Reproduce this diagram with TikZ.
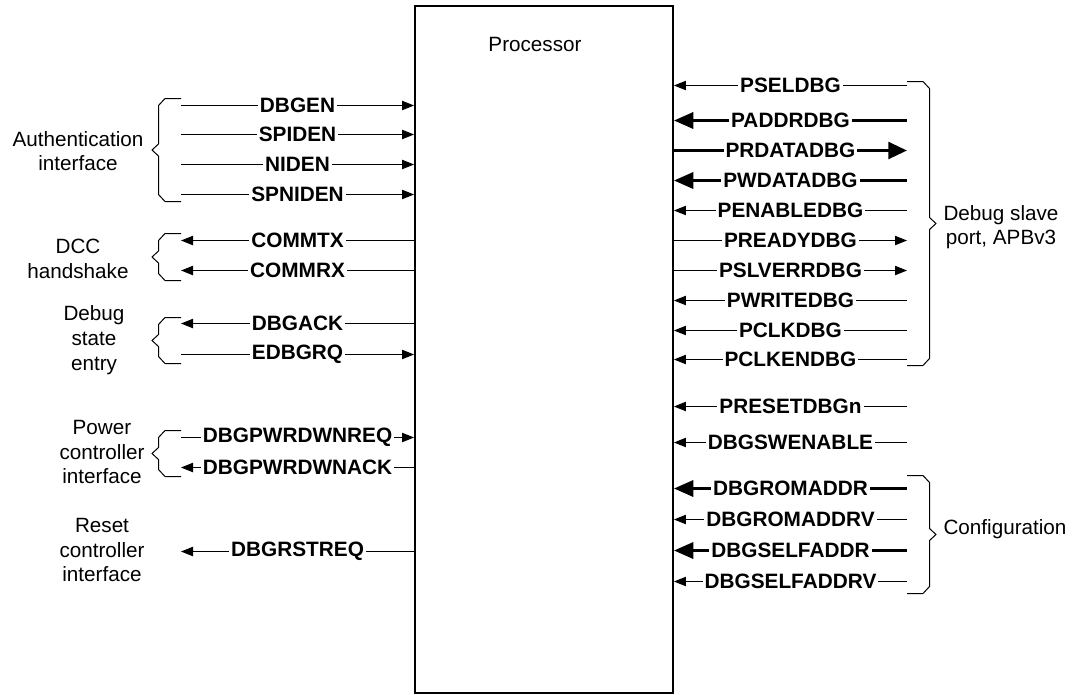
\documentclass[tikz,border=0pt]{standalone}
\usepackage{fontspec}
\setmainfont{Liberation Sans}
\usetikzlibrary{arrows.meta,positioning}

\begin{document}
\begin{tikzpicture}[x=0.75pt,y=-0.75pt,
    procbox/.style={draw,line width=1.4pt,minimum width=193.5pt,minimum height=515.25pt,inner sep=0pt},
    grp/.style={align=center,inner sep=0pt,font=\fontsize{15.5}{18.5}\selectfont},
    sig/.style={fill=white,inner sep=1.5pt,font=\bfseries\fontsize{15.6}{18}\selectfont},
    wirein/.style={line width=0.75pt,-{Triangle[length=9pt,width=7pt]}},
    wireout/.style={line width=0.75pt,{Triangle[length=9pt,width=7pt]}-},
    busin/.style={line width=2.5pt,-{Triangle[length=14.5pt,width=12pt]}},
    busout/.style={line width=2.5pt,{Triangle[length=14pt,width=12.5pt]}-},
    brk/.style={line width=0.75pt}]
  \useasboundingbox (0,0) rectangle (1085,694);
  \node[procbox] (proc) at (544,349.5) {};
  \node[grp] (title) at (535,44) {Processor};
  % left side signals
  \foreach \sname/\yy/\kind in {DBGEN/105.5/wirein, SPIDEN/134.5/wirein, NIDEN/164.5/wirein,
      SPNIDEN/194.5/wirein, COMMTX/240.5/wireout, COMMRX/270.5/wireout, DBGACK/323.5/wireout,
      EDBGRQ/354.5/wirein, DBGPWRDWNREQ/437.5/wirein, DBGPWRDWNACK/467.5/wireout,
      DBGRSTREQ/551.5/wireout}{
    \coordinate (l-\sname) at (181,\yy);
    \coordinate (p-\sname) at (proc.west |- l-\sname);
    \draw[\kind] (l-\sname) -- node[sig] {\sname} (p-\sname);
  }
  % right side signals
  \foreach \sname/\yy/\kind in {PSELDBG/85.5/wirein, PADDRDBG/120.5/busin, PRDATADBG/150.5/busout,
      PWDATADBG/180.5/busin, PENABLEDBG/210.5/wirein, PREADYDBG/240.5/wireout,
      PSLVERRDBG/270.5/wireout, PWRITEDBG/300.5/wirein, PCLKDBG/330.5/wirein,
      PCLKENDBG/359.5/wirein, PRESETDBGn/406.5/wirein, DBGSWENABLE/442.5/wirein,
      DBGROMADDR/488.5/busin, DBGROMADDRV/519.5/wirein, DBGSELFADDR/550.5/busin,
      DBGSELFADDRV/581.5/wirein}{
    \coordinate (r-\sname) at (907,\yy);
    \coordinate (q-\sname) at (proc.east |- r-\sname);
    \draw[\kind] (r-\sname) -- node[sig] {\sname} (q-\sname);
  }
  % braces
  \foreach \ya/\yb in {98.5/201.5, 233.5/280.5, 317.5/363.5, 430.5/476.5}
    \draw[brk] (181,\ya) -- (165,\ya) -- (158.5,{\ya+7}) -- (158.5,{(\ya+\yb)/2-6})
      -- (152,{(\ya+\yb)/2}) -- (158.5,{(\ya+\yb)/2+6}) -- (158.5,{\yb-7}) -- (165,\yb) -- (181,\yb);
  \foreach \ya/\yb in {81.5/365.5, 475.5/593.5}
    \draw[brk] (907,\ya) -- (923,\ya) -- (929.5,{\ya+7}) -- (929.5,{(\ya+\yb)/2-6})
      -- (936,{(\ya+\yb)/2}) -- (929.5,{(\ya+\yb)/2+6}) -- (929.5,{\yb-7}) -- (923,\yb) -- (907,\yb);
  % group labels
  \node[grp] (auth) at (78,151) {Authentication\\interface};
  \node[grp] (dcc) at (78,259) {DCC\\handshake};
  \node[grp] (dbgst) at (94,340) {Debug\\state\\entry};
  \node[grp] (pwr) at (102,452) {Power\\controller\\interface};
  \node[grp] (rst) at (102,550) {Reset\\controller\\interface};
  \node[grp] (apb) at (1001,227) {Debug slave\\port, APBv3};
  \node[grp] (cfg) at (1005,529) {Configuration};
\end{tikzpicture}
\end{document}
